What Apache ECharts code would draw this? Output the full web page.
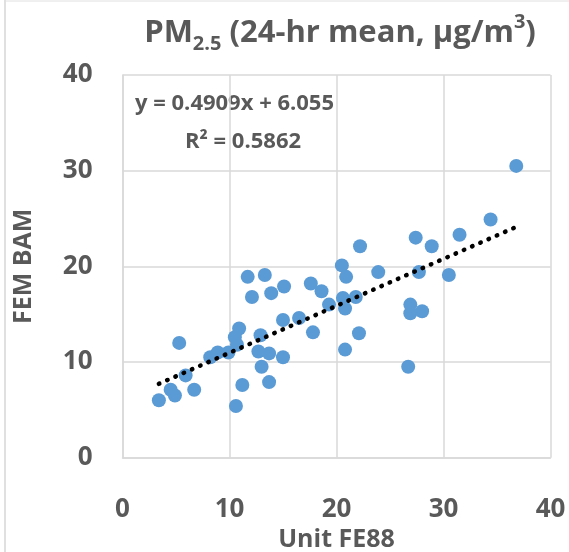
<!DOCTYPE html>
<html>
<head>
<meta charset="utf-8">
<script src="https://cdn.jsdelivr.net/npm/echarts@6/dist/echarts.min.js"></script>
<style>
html,body{margin:0;padding:0;background:#fff;}
#c{width:569px;height:552px;}
</style>
</head>
<body>
<div id="c"></div>
<script>
// Unit FE88 (x) vs FEM BAM (y), 24-hr mean PM2.5
const unitFE88 = [3.4, 4.5, 4.9, 5.3, 5.9, 6.7, 8.2, 8.9, 9.9, 10.5, 10.9, 10.7, 10.6, 11.2, 11.7, 12.1, 13.3, 13.9, 15.1, 12.9, 12.7, 13.7, 13.0, 13.7, 15.0, 15.0, 16.5, 17.6, 18.6, 17.8, 19.3, 20.5, 20.9, 20.6, 20.8, 21.8, 22.2, 23.9, 22.1, 20.8, 26.7, 26.9, 26.9, 28.0, 27.4, 28.9, 27.7, 30.5, 31.5, 34.4, 36.8];
const femBAM   = [6.0, 7.1, 6.5, 12.0, 8.6, 7.1, 10.5, 11.0, 11.0, 12.6, 13.5, 11.8, 5.4, 7.6, 18.9, 16.8, 19.1, 17.2, 17.9, 12.8, 11.1, 10.9, 9.5, 7.9, 14.4, 10.5, 14.6, 18.2, 17.4, 13.1, 16.0, 20.1, 18.9, 16.7, 15.6, 16.8, 22.1, 19.4, 13.0, 11.3, 9.5, 16.0, 15.1, 15.3, 23.0, 22.1, 19.4, 19.1, 23.3, 24.9, 30.5];
const trendSlope = 0.4909;
const trendIntercept = 6.055;
const axisTicks = [0, 10, 20, 30, 40];
const eqText = 'y = 0.4909x + 6.055';
const r2Text = 'R² = 0.5862';
const xName = 'Unit FE88';
const yName = 'FEM BAM';

const points = unitFE88.map((x, i) => [x, femBAM[i]]);
const xMin = Math.min(...unitFE88), xMax = Math.max(...unitFE88);
const trend = [[xMin, trendSlope * xMin + trendIntercept], [xMax, trendSlope * xMax + trendIntercept]];

const txt = '#595959';
const font = '"Open Sans", sans-serif';
const chart = echarts.init(document.getElementById('c'), null, {renderer: 'canvas'});
chart.setOption({
  animation: false,
  textStyle: {fontFamily: font},
  grid: {left: 122.5, right: 18.5, top: 75, bottom: 94.3, containLabel: false, outerBoundsMode: 'none'},
  xAxis: {
    type: 'value', min: axisTicks[0], max: axisTicks[axisTicks.length - 1], interval: 10,
    name: xName, nameLocation: 'middle', nameGap: 66,
    nameTextStyle: {fontSize: 25, fontWeight: 'bold', color: txt, fontFamily: font},
    axisLine: {show: true, lineStyle: {color: '#d9d9d9', width: 1.5}},
    axisTick: {show: false},
    axisLabel: {fontSize: 26, fontWeight: 'bold', color: txt, margin: 39, fontFamily: font},
    splitLine: {show: true, lineStyle: {color: '#d9d9d9', width: 1.5}}
  },
  yAxis: {
    type: 'value', min: axisTicks[0], max: axisTicks[axisTicks.length - 1], interval: 10,
    name: yName, nameLocation: 'middle', nameGap: 86,
    nameTextStyle: {fontSize: 25, fontWeight: 'bold', color: txt, fontFamily: font},
    axisLine: {show: true, lineStyle: {color: '#d9d9d9', width: 1.5}},
    axisTick: {show: false},
    axisLabel: {fontSize: 26, fontWeight: 'bold', color: txt, margin: 30, fontFamily: font},
    splitLine: {show: true, lineStyle: {color: '#d9d9d9', width: 1.5}}
  },
  graphic: [
    {type: 'line', shape: {x1: 5, y1: 0, x2: 5, y2: 552}, style: {stroke: '#e0e0e0', lineWidth: 2}},
    {type: 'line', shape: {x1: 5, y1: 1, x2: 569, y2: 1}, style: {stroke: '#e0e0e0', lineWidth: 1}},
    {
      type: 'text', x: 340, y: 33,
      style: {
        text: '{a|PM}{sub|2.5}{a| (24-hr mean, µg/m}{sup|3}{a|)}',
        align: 'center', verticalAlign: 'middle',
        rich: {
          a: {fontSize: 31, fontWeight: 'bold', fill: txt, fontFamily: font, lineHeight: 42, verticalAlign: 'middle'},
          sub: {fontSize: 20, fontWeight: 'bold', fill: txt, fontFamily: font, lineHeight: 42, verticalAlign: 'bottom', padding: [18, 0, 0, 0]},
          sup: {fontSize: 20, fontWeight: 'bold', fill: txt, fontFamily: font, lineHeight: 42, verticalAlign: 'top', padding: [0, 0, 12, 0]}
        }
      }
    },
    {type: 'text', x: 135, y: 104, style: {text: eqText, fontSize: 22, fontWeight: 'bold', fill: txt, fontFamily: font, verticalAlign: 'middle'}},
    {type: 'text', x: 185, y: 142, style: {text: r2Text, fontSize: 22, fontWeight: 'bold', fill: txt, fontFamily: font, verticalAlign: 'middle'}}
  ],
  series: [
    {
      type: 'scatter', data: points, symbolSize: 14,
      itemStyle: {color: '#5b9bd5', opacity: 1}, z: 2
    },
    {
      type: 'line', data: trend, symbol: 'none', z: 3,
      lineStyle: {color: '#000', width: 4.5, type: [0.5, 8.5], cap: 'round'}
    }
  ]
});
</script>
</body>
</html>
